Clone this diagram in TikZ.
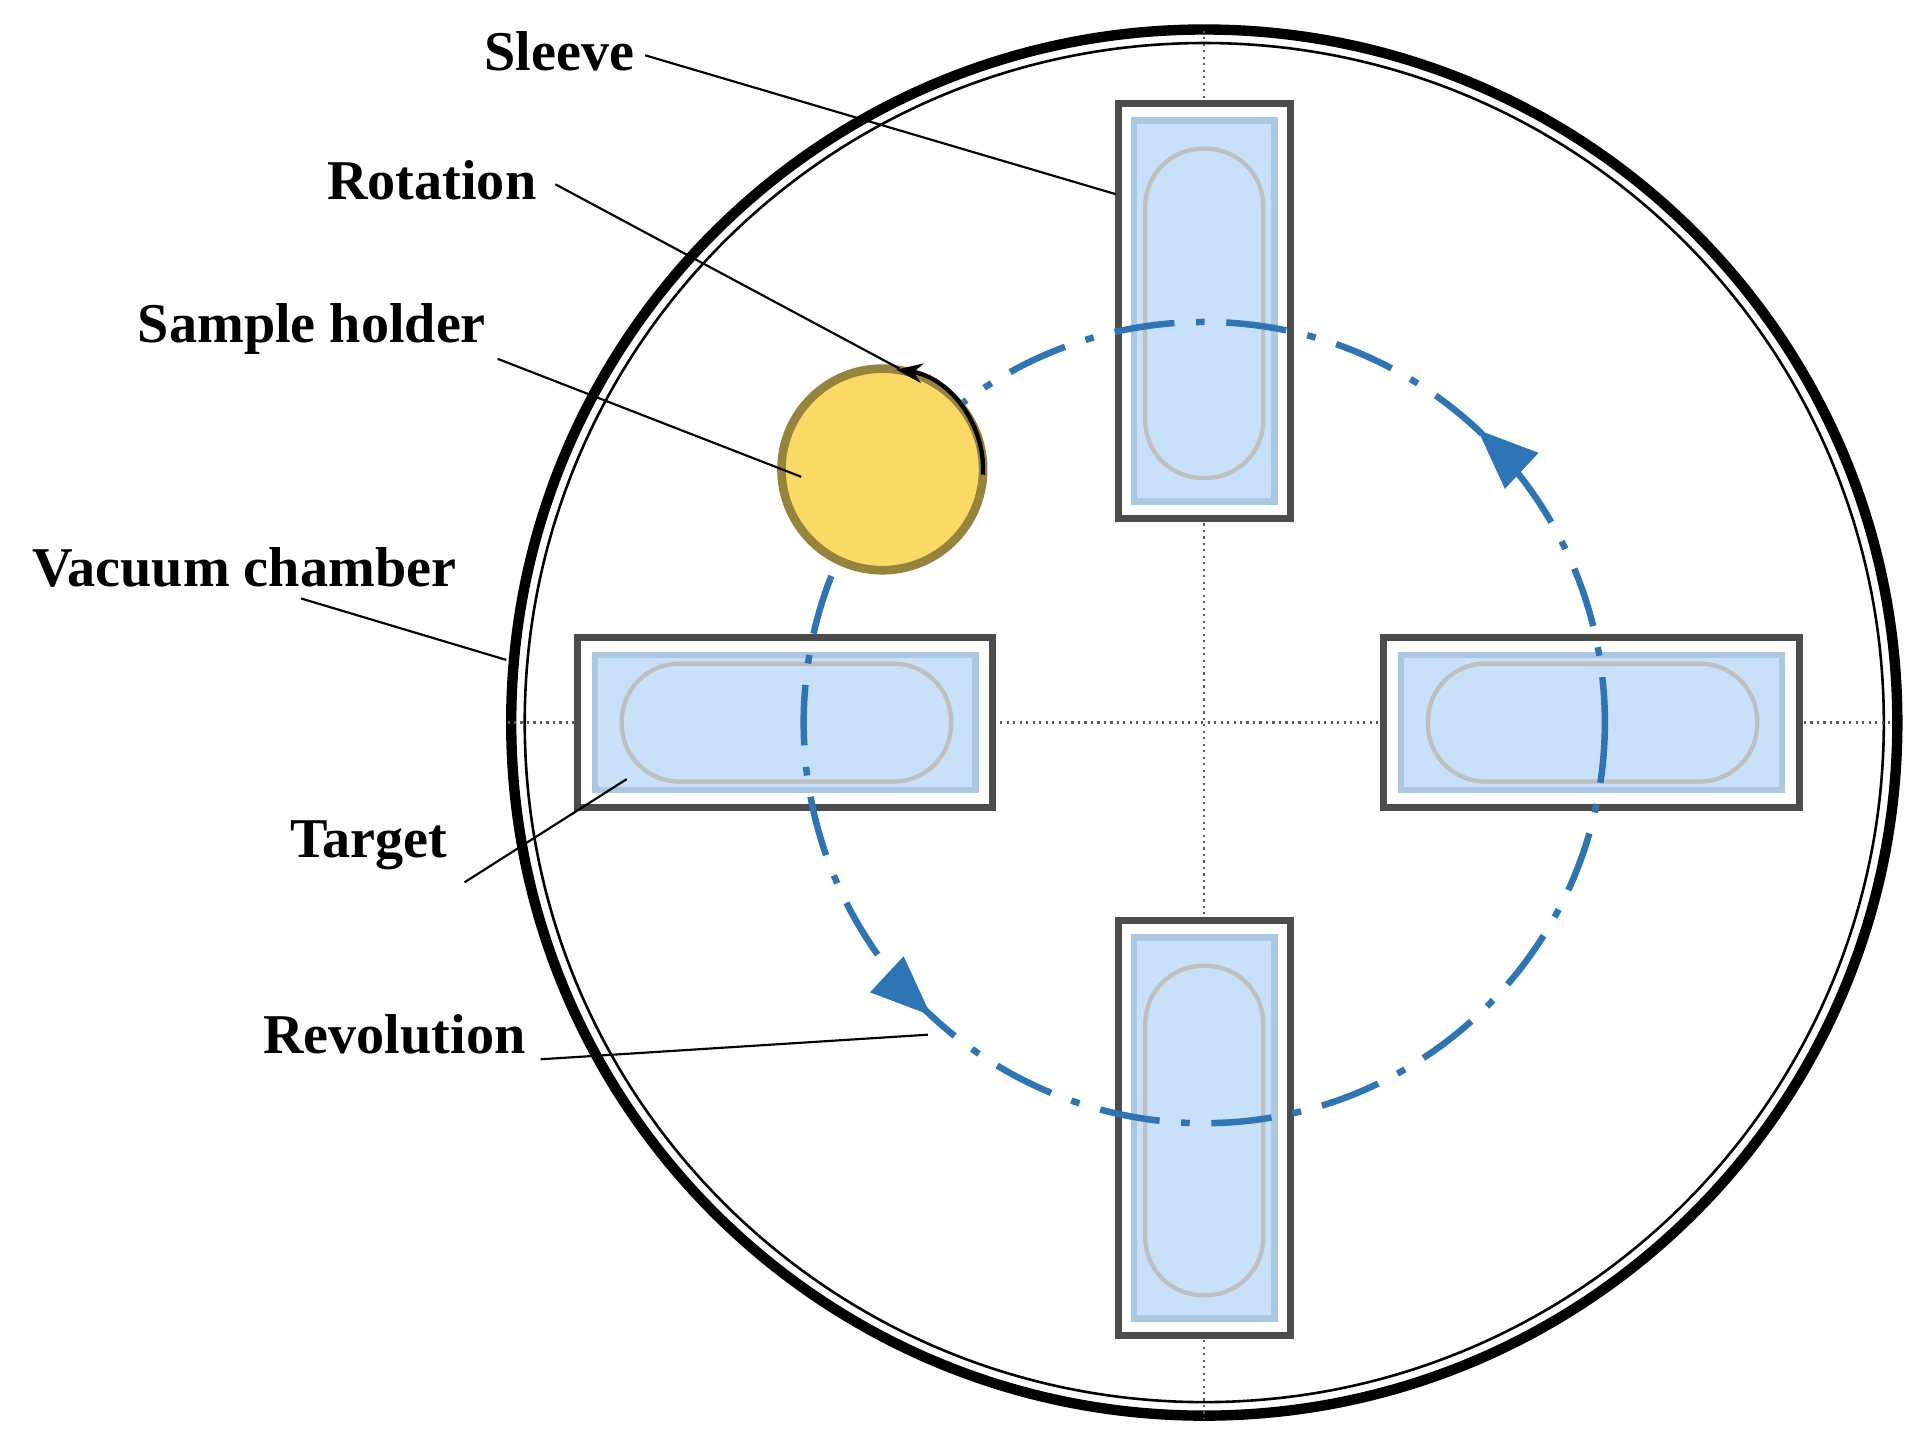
\documentclass[tikz,border=0pt]{standalone}
\usepackage{fontspec}
\setmainfont{Liberation Serif}
\usetikzlibrary{arrows.meta}
\definecolor{rb}{RGB}{46,117,182}
\definecolor{lb}{RGB}{200,225,248}
\definecolor{yl}{RGB}{250,218,100}
\begin{document}
\begin{tikzpicture}[x=0.01cm,y=-0.01cm,
 lbl/.style={font=\fontsize{13}{15}\selectfont\bfseries,inner sep=1pt},
 lead/.style={line width=0.5pt},
 cross/.style={densely dotted,gray!70!black,line width=0.5pt},
 stad/.style={gray!50,line width=1pt,rounded corners=13.3pt},
 rev/.style={rb,line width=1.5pt,dash pattern=on 14pt off 5pt on 2pt off 5pt}]
\useasboundingbox (0,0) rectangle (1560,1172);
\coordinate (c) at (980,588);
\draw[line width=2.4pt] (c) circle (564);
\draw[line width=0.6pt] (c) circle (553);
\draw[cross] (980,25) -- (980,1155);
\draw[cross] (413,588) -- (1540,588);
% targets
\newcommand{\tgv}[2]{%
 \draw[line width=1.6pt,gray!60!black,fill=white] (#1-70,#2-169) rectangle (#1+70,#2+169);
 \draw[line width=1.5pt,rb!40,fill=lb] (#1-57,#2-155) rectangle (#1+57,#2+155);
 \draw[stad] (#1-48,#2-132) rectangle (#1+48,#2+136);}
\newcommand{\tgh}[2]{%
 \draw[line width=1.6pt,gray!60!black,fill=white] (#1-169,#2-69) rectangle (#1+169,#2+69);
 \draw[line width=1.5pt,rb!40,fill=lb] (#1-155,#2-55) rectangle (#1+155,#2+55);
 \draw[stad] (#1-133,#2-48) rectangle (#1+135,#2+48);}
\tgv{980}{253}
\tgv{980}{918}
\tgh{639}{588}
\tgh{1295}{588}
\draw[rev] (c) circle (326);
\fill[rb] (c)++(-47:326) ++(-47-90+20:-0pt) coordinate (a1);
\draw[rb,line width=1.5pt,-{Triangle[length=14pt,width=11pt]}] (c)++(-44:326) arc (-44:-47:326);
\draw[rb,line width=1.5pt,-{Triangle[length=14pt,width=11pt]}] (c)++(136:326) arc (136:133:326);
% sample holder
\node[circle,draw=yl!60!black,line width=2pt,fill=yl,minimum size=1.64cm,inner sep=0] (s) at (718,382) {};
\draw[line width=1pt,-{Stealth[length=6pt]}] (718,382)++(3:82) arc (3:-82:82);
% labels
\node[lbl,anchor=west] (l1) at (390,42) {Sleeve};
\node[lbl,anchor=west] (l2) at (262,147) {Rotation};
\node[lbl,anchor=west] (l3) at (108,268) {Sample holder};
\node[lbl,anchor=west] (l4) at (22,462) {Vacuum chamber};
\node[lbl,anchor=west] (l5) at (232,688) {Target};
\node[lbl,anchor=west] (l6) at (210,842) {Revolution};
\coordinate (e1) at (908,158); \coordinate (e2) at (732,300);
\coordinate (e3) at (652,388); \coordinate (e4) at (412,537);
\coordinate (e5) at (510,634); \coordinate (e6) at (755,842);
\draw[lead] (525,45) -- (e1);
\draw[lead] (452,150) -- (e2);
\draw[lead] (405,292) -- (e3);
\draw[lead] (245,487) -- (e4);
\draw[lead] (378,718) -- (e5);
\draw[lead] (440,862) -- (e6);
\end{tikzpicture}
\end{document}
